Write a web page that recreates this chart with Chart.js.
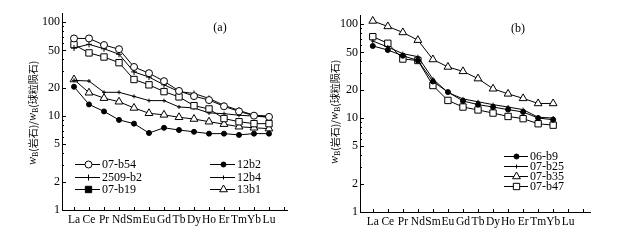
<!DOCTYPE html>
<html><head><meta charset="utf-8">
<script src="https://cdn.jsdelivr.net/npm/chart.js@4.4.0/dist/chart.umd.min.js"></script>
<style>
body{margin:0;background:#fff;width:636px;height:241px;overflow:hidden;position:relative}
canvas{position:absolute;top:0}
#ca{left:0}#cb{left:318px}
</style></head><body>
<canvas id="ca" width="318" height="241"></canvas>
<canvas id="cb" width="318" height="241"></canvas>
<script>
// REE names, chondrite-normalised values
const ree = ['La','Ce','Pr','Nd','Sm','Eu','Gd','Tb','Dy','Ho','Er','Tm','Yb','Lu'];
const yTicks = [1, 2, 5, 10, 20, 50, 100];
const yMinor = [3, 4, 6, 7, 8, 9, 30, 40, 60, 70, 80, 90];

// panel (a)
const b54   = [67, 67, 57, 51.5, 33.3, 28.6, 23.5, 18.5, 16.3, 14.8, 12.7, 11.2, 10.1, 9.8];
const b2509 = [53, 58, 52, 45.5, 29.5, 26, 21.5, 18.2, 17.4, 15.4, 13, 11.5, 10.2, 10];
const b19   = [57.5, 47, 42.5, 37, 24.5, 21.5, 18.2, 16, 12.9, 11.9, 9.4, 8.7, 8.3, 8.3];
const s12b2 = [20.5, 13.3, 11.2, 9.1, 8.3, 6.6, 7.5, 7.1, 6.8, 6.5, 6.5, 6.3, 6.5, 6.5];
const s12b4 = [24, 23.6, 17.9, 17.9, 16.2, 14.6, 14.6, 12.5, 12.2, 10.8, 10.6, 10.2, 10, 9.7];
const s13b1 = [24.5, 17.7, 15.5, 14.2, 12.2, 10.7, 10.3, 9.7, 9.3, 8.7, 8.2, 7.7, 7.5, 7.35];

// panel (b), no Lu value
const b9  = [58.5, 53, 46, 41, 24.5, 18.9, 15.2, 13.9, 13.1, 12.3, 11.6, 10, 9.6];
const b25 = [66, 57, 48.5, 45, 26, 18.7, 16, 14.9, 13.9, 13.1, 12.3, 10.2, 10];
const b35 = [108, 94.5, 81.5, 67.5, 42, 35, 31.4, 26.3, 20.5, 18.1, 16.2, 14.3, 14.3];
const b47 = [73.5, 62.5, 42.5, 41, 22.2, 15.4, 13.1, 12.2, 11.3, 10.4, 9.85, 8.7, 8.4];

const SERIF = '"Liberation Serif", "DejaVu Serif", serif';
const CJK = '"Noto Sans CJK SC", sans-serif';

// per-canvas extras (legend, title, panel letter), kept out of chart options
const extras = {};

function ds(label, vals, style, r, fill) {
  return {
    label, data: vals.map((v, i) => ({ x: i + 1, y: v })),
    borderColor: '#000', borderWidth: 1, tension: 0,
    pointStyle: style, pointRadius: r, pointBorderWidth: 1,
    pointBackgroundColor: fill, pointBorderColor: '#000'
  };
}

function yTitle(ctx, cx, cy) {
  const parts = [
    ['w', 'italic 12px "Liberation Serif"', 0], ['B', '8px "Liberation Serif"', 3],
    ['(岩石)/', '10px ' + CJK, 0],
    ['w', 'italic 12px "Liberation Serif"', 0], ['B', '8px "Liberation Serif"', 3],
    ['(球粒陨石)', '10px ' + CJK, 0]
  ];
  ctx.save();
  ctx.translate(cx, cy);
  ctx.rotate(-Math.PI / 2);
  ctx.fillStyle = '#000';
  ctx.textAlign = 'left';
  ctx.textBaseline = 'middle';
  let total = 0;
  parts.forEach(p => { ctx.font = p[1]; total += ctx.measureText(p[0]).width; });
  let x = -total / 2;
  parts.forEach(p => {
    ctx.font = p[1];
    ctx.fillText(p[0], x, p[2]);
    x += ctx.measureText(p[0]).width;
  });
  ctx.restore();
}

// legend marker, same shapes as the plotted points
function drawMarker(ctx, style, r, fill, x, y) {
  ctx.fillStyle = fill;
  ctx.strokeStyle = '#000';
  ctx.lineWidth = 1;
  ctx.beginPath();
  if (style === 'circle') {
    ctx.arc(x, y, r, 0, Math.PI * 2);
  } else if (style === 'rect') {
    const s = r * Math.SQRT1_2;
    ctx.rect(x - s, y - s, 2 * s, 2 * s);
  } else if (style === 'triangle') {
    ctx.moveTo(x, y - r);
    ctx.lineTo(x + r * 0.866, y + r * 0.5);
    ctx.lineTo(x - r * 0.866, y + r * 0.5);
    ctx.closePath();
  } else {
    ctx.moveTo(x - r, y); ctx.lineTo(x + r, y);
    ctx.moveTo(x, y - r); ctx.lineTo(x, y + r);
    ctx.stroke();
    return;
  }
  ctx.fill();
  ctx.stroke();
}

const decor = {
  id: 'decor',
  afterDraw(chart) {
    const ex = extras[chart.canvas.id];
    const ctx = chart.ctx, xs = chart.scales.x, ys = chart.scales.y;
    ctx.save();
    ctx.strokeStyle = '#000';
    ctx.lineWidth = 1;
    ctx.beginPath();
    xs.ticks.forEach(t => {
      const px = Math.round(xs.getPixelForValue(t.value)) + 0.5;
      ctx.moveTo(px, ys.bottom); ctx.lineTo(px, ys.bottom - 3);
    });
    yTicks.forEach(v => {
      const py = Math.round(ys.getPixelForValue(v)) + 0.5;
      ctx.moveTo(xs.left, py); ctx.lineTo(xs.left + 4, py);
    });
    yMinor.forEach(v => {
      const py = Math.round(ys.getPixelForValue(v)) + 0.5;
      ctx.moveTo(xs.left, py); ctx.lineTo(xs.left + 2, py);
    });
    ctx.stroke();

    ctx.fillStyle = '#000';
    ctx.font = '12px ' + SERIF;
    ctx.textAlign = 'center';
    ctx.textBaseline = 'middle';
    ctx.fillText(ex.letter[0], ex.letter[1], ex.letter[2]);

    yTitle(ctx, ex.title[0], ex.title[1]);

    ctx.textAlign = 'left';
    ex.legend.forEach(it => {
      const d = chart.data.datasets[it.i];
      ctx.strokeStyle = '#000';
      ctx.lineWidth = 1;
      ctx.beginPath();
      ctx.moveTo(it.x1, it.y + 0.5); ctx.lineTo(it.x2, it.y + 0.5);
      ctx.stroke();
      drawMarker(ctx, d.pointStyle, d.pointRadius, it.solid ? '#000' : d.pointBackgroundColor,
        Math.round((it.x1 + it.x2) / 2) + 0.5, it.y + 0.5);
      ctx.fillStyle = '#000';
      ctx.font = '12px ' + SERIF;
      ctx.textBaseline = 'middle';
      ctx.fillText(d.label, it.x2 + 2, it.y + 1);
    });
    ctx.restore();
  }
};

function makeChart(id, datasets, box, xMax) {
  return new Chart(document.getElementById(id), {
    type: 'line',
    data: { datasets },
    plugins: [decor],
    options: {
      responsive: false, animation: false, devicePixelRatio: 1,
      layout: { padding: { left: 0, top: box.top, right: box.right, bottom: 0 } },
      plugins: { legend: { display: false }, tooltip: { enabled: false } },
      scales: {
        x: {
          type: 'linear', min: box.xMin, max: xMax,
          afterBuildTicks: s => { s.ticks = []; for (let i = 1; i <= 15; i++) s.ticks.push({ value: i }); },
          afterFit: s => { s.height = box.xh; },
          grid: { drawOnChartArea: false, drawTicks: false },
          border: { color: '#000', width: 1 },
          ticks: { autoSkip: false, maxRotation: 0, padding: 3, color: '#000',
            font: { family: SERIF, size: 11.5 }, callback: v => ree[v - 1] || '' }
        },
        y: {
          type: 'logarithmic', min: 1, max: 125,
          afterBuildTicks: s => { s.ticks = yTicks.map(v => ({ value: v })); },
          afterFit: s => { s.width = box.left; },
          grid: { drawOnChartArea: false, drawTicks: false },
          border: { color: '#000', width: 1 },
          ticks: { padding: 2, color: '#000', font: { family: SERIF, size: 12 }, callback: v => String(v) }
        }
      }
    }
  });
}

extras.ca = {
  letter: ['(a)', 220, 28],
  title: [33, 113],
  legend: [
    { i: 0, x1: 75, x2: 100, y: 164 },
    { i: 1, x1: 75, x2: 100, y: 177 },
    { i: 2, x1: 75, x2: 100, y: 189, solid: true },
    { i: 3, x1: 210, x2: 235, y: 164 },
    { i: 4, x1: 210, x2: 235, y: 177 },
    { i: 5, x1: 210, x2: 235, y: 189 }
  ]
};
extras.cb = {
  letter: ['(b)', 200, 29],
  title: [17, 112],
  legend: [
    { i: 0, x1: 186, x2: 210, y: 156 },
    { i: 1, x1: 186, x2: 210, y: 166 },
    { i: 2, x1: 186, x2: 210, y: 176 },
    { i: 3, x1: 186, x2: 210, y: 186 }
  ]
};

makeChart('ca', [
  ds('07-b54', b54, 'circle', 3.5, '#ffffff'),
  ds('2509-b2', b2509, 'cross', 3, '#000'),
  ds('07-b19', b19, 'rect', 4.5, '#ffffff'),
  ds('12b2', s12b2, 'circle', 2.5, '#000'),
  ds('12b4', s12b4, 'cross', 2, '#000'),
  ds('13b1', s13b1, 'triangle', 4.5, '#ffffff')
], { left: 62, top: 13, right: 31, xh: 31, xMin: 0.2 }, 15.2);

makeChart('cb', [
  ds('06-b9', b9, 'circle', 2.5, '#000'),
  ds('07-b25', b25, 'cross', 2, '#000'),
  ds('07-b35', b35, 'triangle', 4.5, '#ffffff'),
  ds('07-b47', b47, 'rect', 4.5, '#ffffff')
], { left: 42, top: 15, right: 46, xh: 29, xMin: 0.15 }, 15.45);
</script>
</body></html>
